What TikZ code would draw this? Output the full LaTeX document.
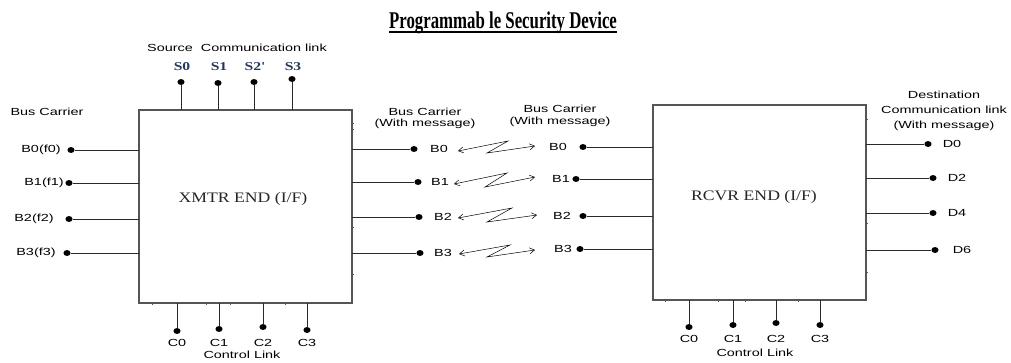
\documentclass[tikz,border=0pt]{standalone}
\usepackage{fontspec}
\usetikzlibrary{arrows.meta,calc,shapes.geometric}
\newfontfamily\labsans[FakeStretch=1.4]{Liberation Sans}
\newfontfamily\labserif[FakeStretch=1.22]{Liberation Serif}
\newfontfamily\pinserif[FakeStretch=1.3]{Liberation Serif}
\newfontfamily\headfont[FakeStretch=0.7]{Liberation Serif}
\definecolor{navy}{HTML}{22385E}
\definecolor{edge}{HTML}{555555}
\definecolor{wire}{HTML}{2A2A2A}
\begin{document}
\begin{tikzpicture}[x=1pt,y=-1pt,
  unitbox/.style={draw=edge,line width=1.4pt,outer sep=0pt,inner sep=0pt},
  wirepin/.style={draw=wire,line width=0.8pt},
  dot/.style={ellipse,fill=black,inner sep=0pt,minimum width=7.2pt,minimum height=6pt},
  sl/.style={font=\labsans\fontsize{10.3}{11.5}\selectfont,inner sep=0pt,text=black},
  sname/.style={font=\pinserif\bfseries\fontsize{12}{13}\selectfont,inner sep=0pt,text=navy},
  boxname/.style={font=\labserif\fontsize{14.5}{16}\selectfont,inner sep=0pt,text=black!85},
  zz/.style={line width=0.5pt,{Straight Barb[length=5pt,width=6pt]}-{Straight Barb[length=5pt,width=6pt]}},
  tick/.style={draw=edge,line width=0.8pt}]
\useasboundingbox (0,0) rectangle (1011,362);

% title
\node[font=\headfont\bfseries\fontsize{24}{26}\selectfont,inner sep=0pt,anchor=base] (title) at (503,28) {Programmab le Security Device};
\draw[line width=1.6pt] ([yshift=-4pt]title.base west) -- ([yshift=-4pt]title.base east);

% transmitter unit
\node[unitbox,minimum width=213pt,minimum height=193pt,anchor=north west] (xb) at (139,110) {};
\node[boxname] (xname) at (243,199) {XMTR END (I/F)};

% receiver unit
\node[unitbox,minimum width=213pt,minimum height=195pt,anchor=north west] (rb) at (653,105) {};
\node[boxname] (rname) at (754,197) {RCVR END (I/F)};

% small connection marks on the unit outlines
\foreach \y in {123,173,269,280} \draw[tick] (xb.west |- 0,\y) -- ++(-1.5,0);
\foreach \y in {123,129,227,274} \draw[tick] (xb.east |- 0,\y) -- ++(2,0);
\foreach \x in {152,206,230,285} \draw[tick] (xb.south -| \x,0) -- ++(0,2);
\foreach \y in {119,169} \draw[tick] (rb.west |- 0,\y) -- ++(-1.5,0);
\foreach \y in {119,223,272} \draw[tick] (rb.east |- 0,\y) -- ++(2,0);
\foreach \x in {665,718,745,798} \draw[tick] (rb.south -| \x,0) -- ++(0,2);

% source communication link
\node[sl] (srclab) at (237,48) {Source\ \ Communication link};
\foreach \n/\x/\yd/\t in {0/181/82/S0, 1/218/83/S1, 2/254/82/S2', 3/292/79/S3}{
  \node[dot] (s\n) at (\x,\yd) {};
  \node[sname] (ts\n) at (\x+1,67) {\t};
  \draw[wirepin] (s\n) -- (s\n |- xb.north);
}

% bus carrier inputs
\node[sl] (buslab) at (47,112) {Bus Carrier};
\foreach \n/\yd/\xd/\xt/\t in {0/150/71/41/B0(f0), 1/183/69/44/B1(f1), 2/219/69/34/B2(f2), 3/253/67/36/B3(f3)}{
  \node[dot] (l\n) at (\xd,\yd) {};
  \node[sl] (tl\n) at (\xt,\yd) {\t};
  \draw[wirepin] (l\n) -- (l\n -| xb.west);
}

% transmitter bus outputs
\node[sl,align=center] (txlab) at (425,118.5) {Bus Carrier\\(With message)};
\foreach \n/\yd/\xd/\xt in {0/149/414/439, 1/182/418/440, 2/217/419/443, 3/253/420/443}{
  \node[dot] (m\n) at (\xd,\yd) {};
  \node[sl] (tm\n) at (\xt,\yd) {B\n};
  \draw[wirepin] (m\n) -- (m\n -| xb.east);
}

% receiver bus inputs
\node[sl,align=center] (rxlab) at (560,116) {Bus Carrier\\(With message)};
\foreach \n/\yd/\xd/\xt in {0/147/583/558, 1/179/576/561, 2/216/583/562, 3/249/580/563}{
  \node[dot] (r\n) at (\xd,\yd) {};
  \node[sl] (tr\n) at (\xt,\yd) {B\n};
  \draw[wirepin] (r\n) -- (r\n -| rb.west);
}

% wireless links between the two ends
\draw[zz] (458,151) -- (508,141) -- (487,153) -- (535,146);
\draw[zz] (454,184) -- (507,173) -- (485,187) -- (535,177);
\draw[zz] (458,218) -- (512,208) -- (487,222) -- (537,215);
\draw[zz] (459,254) -- (510,245) -- (487,257) -- (535,250);

% destination communication link
\node[sl,align=center,font=\labsans\fontsize{10.3}{15}\selectfont] (dstlab) at (944,111) {Destination\\Communication link\\(With message)};
\foreach \n/\yd/\xd/\xt/\t in {0/144/928/952/D0, 1/178/933/957/D2, 2/213/933/957/D4, 3/250/935/962/D6}{
  \node[dot] (d\n) at (\xd,\yd) {};
  \node[sl] (td\n) at (\xt,\yd) {\t};
  \draw[wirepin] (d\n) -- (d\n -| rb.east);
}

% transmitter control link
\foreach \n/\x/\yd in {0/177/331, 1/219/329, 2/263/327, 3/307/330}{
  \node[dot] (xc\n) at (\x,\yd) {};
  \node[sl] (txc\n) at (\x,343) {C\n};
  \draw[wirepin] (xc\n) -- (xc\n |- xb.south);
}
\node[sl] (xctl) at (242,355) {Control Link};

% receiver control link
\foreach \n/\x/\yd in {0/689/327, 1/733/325, 2/776/323, 3/820/325}{
  \node[dot] (rc\n) at (\x,\yd) {};
  \node[sl] (trc\n) at (\x,339) {C\n};
  \draw[wirepin] (rc\n) -- (rc\n |- rb.south);
}
\node[sl] (rctl) at (755,353) {Control Link};
\end{tikzpicture}
\end{document}
